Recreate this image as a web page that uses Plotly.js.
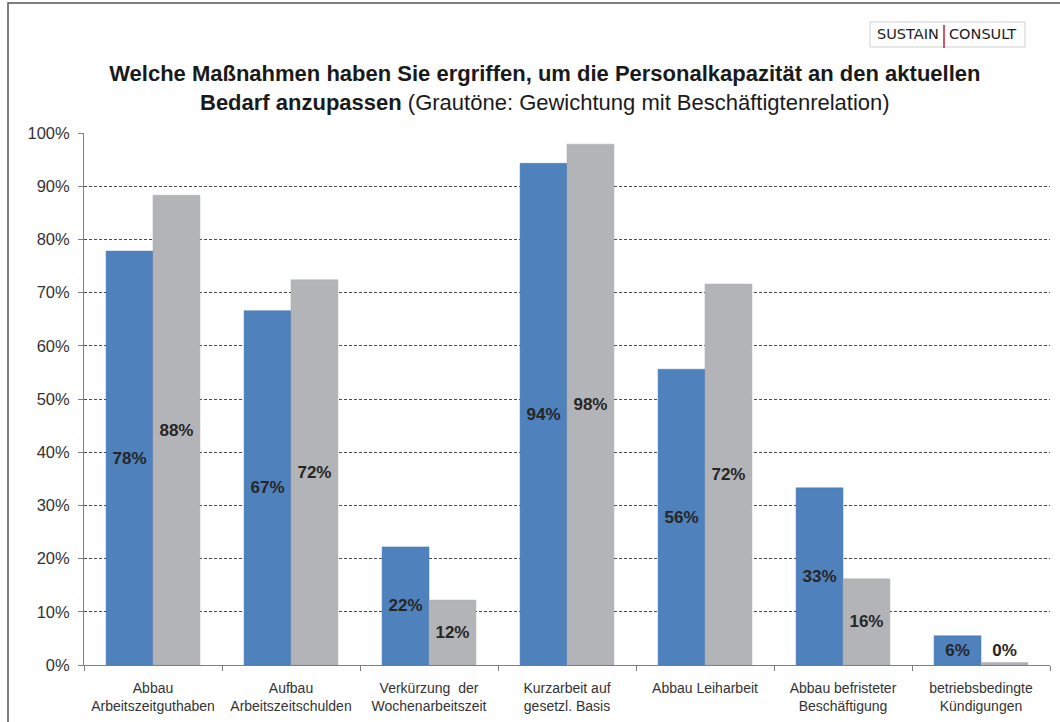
<!DOCTYPE html>
<html>
<head>
<meta charset="utf-8">
<script src="https://cdn.plot.ly/plotly-3.0.1.min.js"></script>
<style>
html,body{margin:0;padding:0;background:#fff;}
#chart{width:1060px;height:722px;}
</style>
</head>
<body>
<div id="chart"></div>
<script>
const categories = [
  "Abbau<br>Arbeitszeitguthaben",
  "Aufbau<br>Arbeitszeitschulden",
  "Verkürzung  der<br>Wochenarbeitszeit",
  "Kurzarbeit auf<br>gesetzl. Basis",
  "Abbau Leiharbeit<br> ",
  "Abbau befristeter<br>Beschäftigung",
  "betriebsbedingte<br>Kündigungen"
];
const seriesUnweighted = [77.8, 66.6, 22.2, 94.3, 55.6, 33.3, 5.5];
const seriesWeighted = [88.3, 72.4, 12.2, 97.9, 71.6, 16.2, 0.45];
const yTickVals = [0,10,20,30,40,50,60,70,80,90,100];
const yTickText = ["0%","10%","20%","30%","40%","50%","60%","70%","80%","90%","100%"];

const W = 1060, H = 722;
const mL = 84, mR = 10, mT = 133, mB = 57;
const plotW = W - mL - mR, plotH = H - mT - mB;

function labels(arr){ return arr.map(v => Math.round(v) + "%"); }
function positions(arr){ return arr.map(v => v < 3 ? "outside" : "inside"); }

const labelFont = {family: "Liberation Sans, Arial, sans-serif", size: 17, color: "#262626", weight: "bold"};

const traces = [
  {
    type: "bar", x: categories, y: seriesUnweighted,
    marker: {color: "#4F81BD", line: {color: "#4A7AB3", width: 0.5}},
    text: labels(seriesUnweighted).map(t => "<b>" + t + "</b>"),
    textposition: positions(seriesUnweighted),
    insidetextanchor: "middle", constraintext: "none",
    textfont: labelFont, insidetextfont: labelFont, outsidetextfont: labelFont,
    cliponaxis: false, hoverinfo: "skip"
  },
  {
    type: "bar", x: categories, y: seriesWeighted,
    marker: {color: "#B3B4B8", line: {color: "#A9AAAE", width: 0.5}},
    text: labels(seriesWeighted).map(t => "<b>" + t + "</b>"),
    textposition: positions(seriesWeighted),
    insidetextanchor: "middle", constraintext: "none",
    textfont: labelFont, insidetextfont: labelFont, outsidetextfont: labelFont,
    cliponaxis: false, hoverinfo: "skip"
  }
];

const layout = {
  width: W, height: H,
  margin: {l: mL, r: mR, t: mT, b: mB, pad: 0},
  paper_bgcolor: "#fff", plot_bgcolor: "#fff",
  showlegend: false,
  barmode: "group", bargap: 0.32, bargroupgap: 0,
  font: {family: "Liberation Sans, Arial, sans-serif", color: "#333"},
  title: {
    text: "<b>Welche Maßnahmen haben Sie ergriffen, um die Personalkapazität an den aktuellen<br>Bedarf anzupassen</b> (Grautöne: Gewichtung mit Beschäftigtenrelation)",
    font: {family: "Liberation Sans, Arial, sans-serif", size: 22, color: "#1a1a1a"},
    x: 0.514, xref: "container", xanchor: "center",
    y: 1 - 81/H, yref: "container", yanchor: "middle"
  },
  xaxis: {
    type: "category",
    showline: true, linecolor: "#7f7f7f", linewidth: 1,
    ticks: "outside", tickson: "boundaries", ticklen: 5, tickcolor: "#7f7f7f",
    tickfont: {size: 14, color: "#333"}, ticklabelstandoff: 10,
    showgrid: false, zeroline: false, fixedrange: true
  },
  yaxis: {
    range: [0, 100],
    tickvals: yTickVals, ticktext: yTickText,
    tickfont: {size: 16.5, color: "#333"}, ticklabelstandoff: 5,
    showline: true, linecolor: "#7f7f7f", linewidth: 1,
    ticks: "outside", ticklen: 5, tickcolor: "#7f7f7f",
    showgrid: true, gridcolor: "#4a4a4a", gridwidth: 1, griddash: "3px,2px",
    zeroline: false, fixedrange: true
  },
  shapes: [
    {type: "rect", xref: "paper", yref: "paper",
     x0: (8 - mL)/plotW, x1: (W + 20 - mL)/plotW,
     y0: -(H + 20 - mT - plotH)/plotH, y1: 1 + (mT - 3)/plotH,
     line: {color: "#555", width: 1.5}, fillcolor: "rgba(0,0,0,0)", layer: "below"},
    {type: "rect", xref: "paper", yref: "paper",
     x0: (870 - mL)/plotW, x1: (1025 - mL)/plotW,
     y0: 1 + (mT - 47)/plotH, y1: 1 + (mT - 22)/plotH,
     line: {color: "#cfcfcf", width: 1}, fillcolor: "#fff"},
    {type: "line", xref: "paper", yref: "paper",
     x0: (944 - mL)/plotW, x1: (944 - mL)/plotW,
     y0: 1 + (mT - 48)/plotH, y1: 1 + (mT - 25)/plotH,
     line: {color: "#c0203a", width: 1.5}}
  ],
  annotations: [
    {xref: "paper", yref: "paper", x: (941 - mL)/plotW, y: 1 + (mT - 34)/plotH,
     xanchor: "right", yanchor: "middle", showarrow: false,
     text: "SUSTAIN", font: {family: "DejaVu Sans, sans-serif", size: 14.5, color: "#222"}},
    {xref: "paper", yref: "paper", x: (947 - mL)/plotW, y: 1 + (mT - 34)/plotH,
     xanchor: "left", yanchor: "middle", showarrow: false,
     text: "CONSULT", font: {family: "DejaVu Sans, sans-serif", size: 14.5, color: "#222"}}
  ]
};

Plotly.newPlot("chart", traces, layout, {displayModeBar: false, staticPlot: true});
</script>
</body>
</html>
